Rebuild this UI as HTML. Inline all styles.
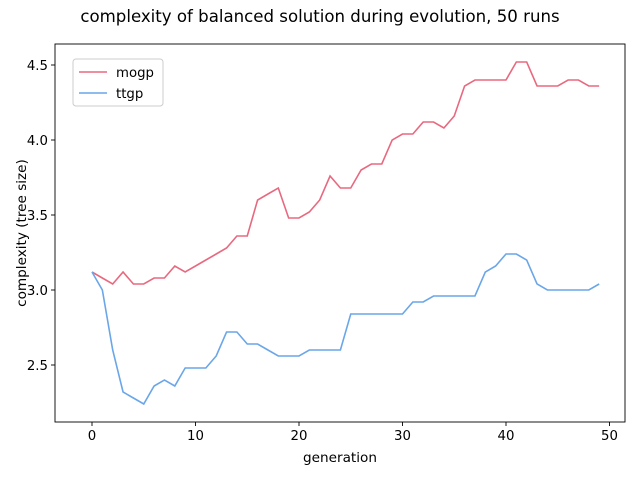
<!DOCTYPE html>
<html><head><meta charset="utf-8"><style>
body{margin:0;background:#fff;font-family:"Liberation Sans","DejaVu Sans",sans-serif}
svg text{font-family:"DejaVu Sans","Liberation Sans",sans-serif;fill:#000}
</style></head><body>
<svg id="c" width="640" height="480"></svg>
<script>
const generations=[...Array(50).keys()];
const mogp=[3.12,3.08,3.04,3.12,3.04,3.04,3.08,3.08,3.16,3.12,3.16,3.20,3.24,3.28,3.36,3.36,3.60,3.64,3.68,3.48,3.48,3.52,3.60,3.76,3.68,3.68,3.80,3.84,3.84,4.00,4.04,4.04,4.12,4.12,4.08,4.16,4.36,4.40,4.40,4.40,4.40,4.52,4.52,4.36,4.36,4.36,4.40,4.40,4.36,4.36];
const ttgp=[3.12,3.00,2.60,2.32,2.28,2.24,2.36,2.40,2.36,2.48,2.48,2.48,2.56,2.72,2.72,2.64,2.64,2.60,2.56,2.56,2.56,2.60,2.60,2.60,2.60,2.84,2.84,2.84,2.84,2.84,2.84,2.92,2.92,2.96,2.96,2.96,2.96,2.96,3.12,3.16,3.24,3.24,3.20,3.04,3.00,3.00,3.00,3.00,3.00,3.04];
const xTicks=[0,10,20,30,40,50];
const yTicks=[2.5,3.0,3.5,4.0,4.5];
const yLabels=["2.5","3.0","3.5","4.0","4.5"];
const L=55,R=625,T=44,B=422;
const x=v=>92+v*10.35;
const y=v=>290-(v-3)*150;
const svg=document.getElementById('c');
const NS='http://www.w3.org/2000/svg';
function mk(t,a,p){const e=document.createElementNS(NS,t);for(const k in a)e.setAttribute(k,a[k]);(p||svg).appendChild(e);return e;}
let t=mk('text',{x:320,y:22,'text-anchor':'middle','font-size':16.6});t.textContent='complexity of balanced solution during evolution, 50 runs';


const series=[[mogp,'#e8697f','mogp'],[ttgp,'#6aa6e8','ttgp']];
series.forEach(([d,c,n])=>{
  const p=mk('polyline',{points:d.map((v,i)=>x(generations[i])+','+y(v)).join(' '),fill:'none',stroke:c,'stroke-width':1.6});
  
  
});
const fr=mk('rect',{x:L,y:T,width:R-L,height:B-T,fill:'none',stroke:'#000','stroke-width':0.9});


xTicks.forEach(v=>{
  mk('line',{x1:x(v),x2:x(v),y1:B,y2:B+4,stroke:'#000','stroke-width':0.9});
  const e=mk('text',{x:x(v),y:B+18,'text-anchor':'middle','font-size':13.3});e.textContent=v;
  
  
});
yTicks.forEach((v,i)=>{
  mk('line',{x1:L-4,x2:L,y1:y(v),y2:y(v),stroke:'#000','stroke-width':0.9});
  const e=mk('text',{x:L-7,y:y(v)+5,'text-anchor':'end','font-size':13.3});e.textContent=yLabels[i];
  
  
});
t=mk('text',{x:(L+R)/2,y:462,'text-anchor':'middle','font-size':13.6});t.textContent='generation';


t=mk('text',{x:0,y:0,'text-anchor':'middle','font-size':13.6,transform:`translate(26,${(T+B)/2}) rotate(-90)`});t.textContent='complexity (tree size)';


const lg=mk('g',{});


mk('rect',{x:73,y:59,width:90,height:47,rx:3,fill:'#fff',stroke:'#ccc','stroke-width':1},lg);
series.forEach(([d,c,n],i)=>{
  const yy=72+i*21;
  mk('line',{x1:79,x2:107,y1:yy,y2:yy,stroke:c,'stroke-width':1.6},lg);
  const e=mk('text',{x:116,y:yy+5,'font-size':13.3},lg);e.textContent=n;
  
  
});
</script>
</body></html>
